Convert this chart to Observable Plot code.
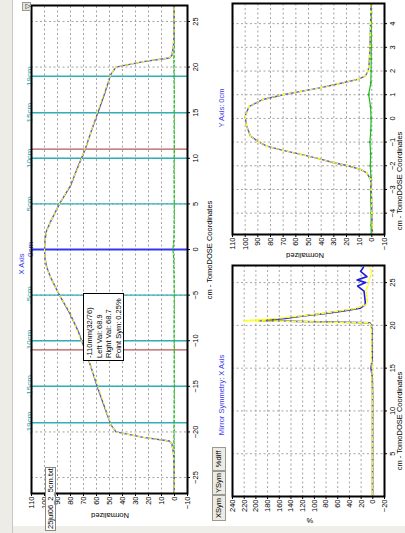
<!DOCTYPE html>
<html><head><meta charset="utf-8">
<script src="https://cdn.jsdelivr.net/npm/d3@7"></script>
<script src="https://cdn.jsdelivr.net/npm/@observablehq/plot@0.6"></script>
<style>
html,body{margin:0;padding:0;background:#fff;width:405px;height:533px;overflow:hidden;}
#stage{position:absolute;left:0;top:0;width:533px;height:405px;transform-origin:0 0;transform:translate(0px,533px) rotate(-90deg);background:#fff;font-family:"Liberation Sans",Arial,sans-serif;overflow:hidden;}
#stage svg{position:absolute;left:0;top:0;}
.lbl{position:absolute;white-space:nowrap;font-size:7.5px;line-height:1;color:#000;}
.rot{transform:translate(-50%,-50%) rotate(-90deg);}
.ctr{transform:translate(-50%,-50%);}
.tab{position:absolute;border:1px solid #9a9a90;background:#ecebe4;font-size:7.5px;line-height:12px;text-align:center;box-sizing:border-box;}
</style></head><body><div id="stage"></div>
<script>
// ---------- X axis profile (main chart) ----------
const xCm    = [-26.7,-24,-22.3,-21.3,-21.0,-20.6,-20.0,-19.2,-17,-15,-13,-11,-9,-7,-5,-3,-2,-1,0,1,2,3,5,7,9,11,13,15,17,19.2,20.0,20.6,21.0,21.3,22.3,24,26.7];
const xProf  = [0.2,0.3,0.8,2,4,24,45,49,54.5,59.5,64,68.9,74,80.5,88.5,95.5,98.2,99.6,100,99.6,98.5,95.5,88.5,80,74.5,68.7,64,59,54,49,45,24,4,2,0.8,0.3,0.2];
const xMirror= [0.2,0.3,0.8,2,4,24,45,49,54,59,64,68.7,74.5,80,88.5,95.5,98.5,99.6,100,99.6,98.2,95.5,88.5,80.5,74,68.9,64,59.5,54.5,49,45,24,4,2,0.8,0.3,0.2];
const xDiffCm = [-26.7,-25,-23,-21,-19,-17,-15,-13,-11,-9,-7,-5,-3,-1,0,1,3,5,7,9,11,13,15,17,19,21,23,25,26.7];
const xDiff   = [0.2,0.3,0.2,0.5,0.4,0.3,0.2,0.3,0.2,0.4,0.3,0.2,0.4,0.6,1.2,0.5,0.3,0.2,0.3,0.4,0.2,0.3,0.3,0.2,0.4,0.5,0.2,0.3,0.2];
const cyanLines = [-19,-15,-10,-5,5,10,15,19];
const redLines  = [-11,11];
const blueLines = [0];
const xTicks = [-25,-20,-15,-10,-5,0,5,10,15,20,25];
const normTicks = [-10,0,10,20,30,40,50,60,70,80,90,100,110];

// ---------- Y axis profile ----------
const yCm   = [-4.9,-4.5,-4,-3.5,-3,-2.57,-2.3,-2.15,-2.0,-1.87,-1.7,-1.52,-1.35,-1.17,-1.0,-0.75,-0.3,0.1,0.5,0.8,1.0,1.14,1.3,1.45,1.65,1.8,2.0,2.2,2.6,3.05,3.5,4,4.5,4.85];
const yProf = [-0.5,-0.3,0,0.2,0.5,1,4,9,19,30,42,56,70,83,89,95.8,99,100,97,86,70,56,40,27,11,5,3,2.3,1.8,1.5,1.2,1,0.8,0.8];
const yDiffCm = [-4.9,-4.5,-4,-3.5,-3,-2.5,-2,-1.5,-1,-0.5,0,0.5,1,1.5,2,2.5,3,3.5,4,4.5,4.85];
const yDiff   = [0.5,0.6,0.5,0.8,1,0.7,1.2,0.9,1.5,0.8,0.6,1.0,2.5,0.8,0.6,0.5,0.5,0.4,0.5,0.4,0.5];
const yTicks = [-4,-3,-2,-1,0,1,2,3,4];

// ---------- Mirror symmetry ----------
const mCm     = [0.2,2,4,6,8,10,12,14,15,16,18,19.5,20.0,20.3,20.55,20.8,21.1,21.4,21.7,22.0,22.4,22.8,23.4,24.0,24.6,25.0,25.3,25.7,26.3,26.8];
const mYellow = [1,1,1,1,1,1,1,1.5,1,2,1.5,2,3,6,222,165,124,85,55,28,12,9,10,12,9,7,6,4,2,6];
const mBlue   = [0.5,0.5,0.5,0.5,0.5,0.5,0.5,1,3,1,1,1.5,2.5,5,195,150,120,80,50,22,13,13,14,15,26,12,27,10,21,16];
const mTicks = [5,10,15,20,25];
const pctTicks = [-20,0,20,40,60,80,100,120,140,160,180,200,220,240];

const W = 533, H = 405;
const BLUE = "#5a56c4", YEL = "#ffff1a", GRN = "#1fb81f", CYAN = "#30b0b6", CYANTXT = "#1aa4ac", RED = "#b45a5a", TITLEBLUE = "#3a3ae6";
const FONT = "Liberation Sans, Arial, sans-serif";
const grid = {stroke:"#8c8c8c", strokeOpacity:1, strokeDasharray:"2,2.5", strokeWidth:0.8};
const zip = (a,b)=>a.map((c,i)=>({c, v:b[i]}));
const style = {background:"transparent", fontFamily:FONT, fontSize:"7.5px", overflow:"visible"};
const stage = document.getElementById("stage");

// main chart
const main = Plot.plot({
  width:W, height:H, marginLeft:39, marginRight:6, marginTop:31, marginBottom:H-187,
  style,
  x:{domain:[-26.75,26.75]}, y:{domain:[-10,110]},
  marks:[
    Plot.gridX(xTicks, grid),
    Plot.gridY(normTicks, grid),
    Plot.ruleX(cyanLines, {stroke:CYAN, strokeWidth:1.4}),
    Plot.ruleX(redLines, {stroke:RED, strokeWidth:1.4}),
    Plot.ruleX(blueLines, {stroke:"#3434f0", strokeWidth:2}),
    Plot.line(zip(xDiffCm,xDiff), {x:"c", y:"v", stroke:GRN, strokeWidth:1.2, strokeDasharray:"3,2", clip:true}),
    Plot.line(zip(xCm,xProf), {x:"c", y:"v", stroke:BLUE, strokeWidth:1.4, clip:true}),
    Plot.line(zip(xCm,xMirror), {x:"c", y:"v", stroke:YEL, strokeWidth:1.1, strokeDasharray:"2.5,3", clip:true}),
    Plot.text(cyanLines, {x:d=>d, text:d=>d+"cm", frameAnchor:"top", dy:-5, fill:CYANTXT, fontSize:8}),
    Plot.text(blueLines, {x:d=>d, text:d=>d+"cm", frameAnchor:"top", dy:-4, fill:TITLEBLUE, fontSize:8}),
    Plot.axisX(xTicks, {tickSize:3, tickPadding:2, label:null, fontSize:7.5}),
    Plot.axisY(normTicks, {tickSize:2, tickPadding:1, label:null, fontSize:7.5}),
    Plot.frame({stroke:"#000", strokeWidth:2})
  ]
});
stage.appendChild(main);

// Y axis chart
const ych = Plot.plot({
  width:W, height:H, marginLeft:298, marginRight:4, marginTop:232, marginBottom:H-384,
  style,
  x:{domain:[-4.9,4.85]}, y:{domain:[-10,110]},
  marks:[
    Plot.gridX(yTicks, grid),
    Plot.gridY(normTicks, grid),
    Plot.line(zip(yDiffCm,yDiff), {x:"c", y:"v", stroke:GRN, strokeWidth:1.2, clip:true}),
    Plot.dot(zip(yDiffCm,yDiff), {x:"c", y:"v", fill:GRN, r:1.1, clip:true}),
    Plot.line(zip(yCm,yProf), {x:"c", y:"v", stroke:BLUE, strokeWidth:1.4, clip:true}),
    Plot.line(zip(yCm,yProf), {x:"c", y:"v", stroke:YEL, strokeWidth:1.0, strokeDasharray:"2.5,3", clip:true}),
    Plot.dot(zip(yCm,yProf), {x:"c", y:"v", fill:YEL, r:1.1, clip:true}),
    Plot.axisX(yTicks, {tickSize:3, tickPadding:2, label:null, fontSize:7.5}),
    Plot.axisY(normTicks, {tickSize:2, tickPadding:1, label:null, fontSize:7.5}),
    Plot.frame({stroke:"#000", strokeWidth:2})
  ]
});
stage.appendChild(ych);

// Mirror symmetry chart
const mch = Plot.plot({
  width:W, height:H, marginLeft:36, marginRight:W-267, marginTop:232, marginBottom:H-384,
  style,
  x:{domain:[0,27]}, y:{domain:[-20,240]},
  marks:[
    Plot.gridX(mTicks, grid),
    Plot.gridY(pctTicks, grid),
    Plot.line(zip(mCm,mBlue), {x:"c", y:"v", stroke:"#2020d8", strokeWidth:1.6, clip:true}),
    Plot.line(zip(mCm,mYellow), {x:"c", y:"v", stroke:YEL, strokeWidth:1.4, strokeDasharray:"4,2", clip:true}),
    Plot.axisX(mTicks, {tickSize:3, tickPadding:2, label:null, fontSize:7.5}),
    Plot.axisY(pctTicks, {tickSize:2, tickPadding:1, label:null, fontSize:7.5}),
    Plot.frame({stroke:"#000", strokeWidth:2})
  ]
});
stage.appendChild(mch);

// html labels
function lbl(text, u, v, cls, extra){
  const d = document.createElement("div");
  d.className = "lbl " + cls;
  d.textContent = text;
  d.style.left = u + "px"; d.style.top = v + "px";
  if (extra) Object.assign(d.style, extra);
  stage.appendChild(d);
  return d;
}
lbl("Normalized", 18, 110, "rot");
lbl("cm - TomoDOSE Coordinates", 283, 210, "ctr");
lbl("X Axis", 269, 22, "ctr", {color:TITLEBLUE});
lbl("Y Axis: 0cm", 425, 222, "ctr", {color:TITLEBLUE});
lbl("Normalized", 278, 305, "rot");
lbl("cm - TomoDOSE Coordinates", 352, 400, "ctr");
lbl("Mirror Symmetry: X Axis", 138, 222, "ctr", {color:TITLEBLUE});
lbl("%", 13, 310, "rot");
lbl("cm - TomoDOSE Coordinates", 112, 400, "ctr");

// tooltip box
const tip = document.createElement("div");
Object.assign(tip.style, {position:"absolute", left:"172px", top:"83px", width:"68px", height:"41px", background:"#fff", border:"1px solid #000", boxSizing:"border-box", fontSize:"7.5px", lineHeight:"9.6px", padding:"1px 2px", whiteSpace:"nowrap"});
tip.innerHTML = "-110mm(32/76)<br>Left Val: 68.9<br>Right Val: 68.7<br>Point Sym: 0.25%";
stage.appendChild(tip);

// file label
const fl = document.createElement("div");
Object.assign(fl.style, {position:"absolute", left:"2px", top:"45px", width:"64px", height:"11px", background:"#fff", border:"1px solid #888", boxSizing:"border-box", fontSize:"7.5px", lineHeight:"9px", paddingLeft:"1px", whiteSpace:"nowrap"});
fl.textContent = "25jul06_2_5cm.txt";
stage.appendChild(fl);

// tabs
[["XSym",12,38],["YSym",38,62],["%diff",62,86]].forEach(([t,a,b])=>{
  const d = document.createElement("div");
  d.className = "tab"; d.textContent = t;
  Object.assign(d.style, {left:a+"px", top:"212px", width:(b-a)+"px", height:"14px"});
  stage.appendChild(d);
});

// window chrome
const top1 = document.createElement("div");
Object.assign(top1.style, {position:"absolute", left:"0px", top:"0px", width:W+"px", height:"12px", background:"#edece6", borderBottom:"1px solid #c8c8c0"});
stage.prepend(top1);
const left1 = document.createElement("div");
Object.assign(left1.style, {position:"absolute", left:"0px", top:"0px", width:"7px", height:H+"px", background:"#efeee8"});
stage.prepend(left1);
const icon = document.createElement("div");
Object.assign(icon.style, {position:"absolute", left:"522px", top:"22px", width:"9px", height:"9px", border:"1px solid #999", background:"#e4e3dc", fontSize:"7px", lineHeight:"9px", textAlign:"center", boxSizing:"border-box"});
icon.textContent = "▽";
stage.appendChild(icon);
</script>
</body></html>
